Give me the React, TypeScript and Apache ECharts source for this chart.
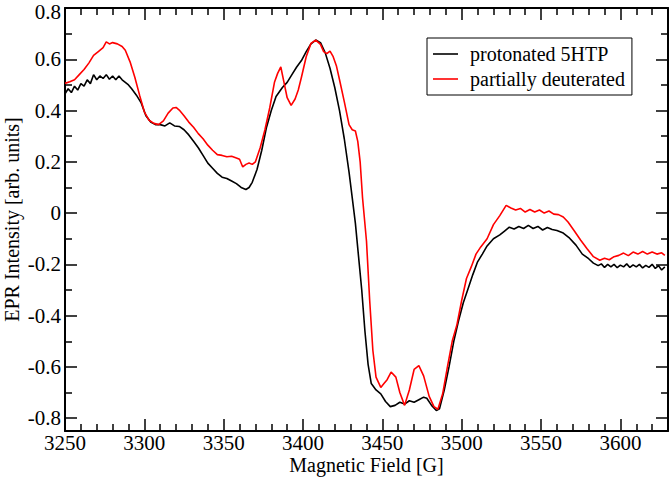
import React, { useEffect, useRef } from "react";
import * as echarts from "echarts";

const xTicks = [3250, 3300, 3350, 3400, 3450, 3500, 3550, 3600];
const yTicks = [-0.8, -0.6, -0.4, -0.2, 0, 0.2, 0.4, 0.6, 0.8];
const xMinorTicks = [3260, 3270, 3280, 3290, 3310, 3320, 3330, 3340, 3360, 3370, 3380, 3390, 3410, 3420, 3430, 3440, 3460, 3470, 3480, 3490, 3510, 3520, 3530, 3540, 3560, 3570, 3580, 3590, 3610, 3620];
const yMinorTicks = [-0.7, -0.5, -0.3, -0.1, 0.1, 0.3, 0.5, 0.7];

const seriesNames = ["protonated 5HTP", "partially deuterated"];

const protonatedField = [
  3250, 3252, 3254, 3256, 3258, 3260, 3262, 3264, 3266, 3268, 3270, 3272, 3274, 3276, 3278, 3280, 3282,
  3284, 3286, 3288, 3290, 3292, 3295, 3298,
  3301, 3304, 3307, 3310, 3313, 3316, 3319, 3322, 3325, 3328, 3331, 3334, 3337, 3340, 3343, 3346, 3349,
  3352, 3355, 3358, 3361, 3364, 3366, 3368, 3371, 3374, 3377, 3380, 3383, 3387, 3390, 3393, 3396, 3399,
  3402, 3405, 3408, 3411, 3414, 3417, 3420, 3423, 3426, 3429, 3431, 3433, 3435, 3437, 3439, 3441, 3443,
  3446, 3449, 3452, 3455, 3458, 3461, 3464, 3467, 3470, 3473, 3476, 3478, 3481, 3484, 3486, 3489, 3492,
  3495, 3498, 3501, 3504, 3507, 3510, 3513, 3516, 3520, 3524, 3527, 3530, 3533, 3536, 3539, 3542, 3545,
  3548, 3551, 3554, 3557, 3560, 3564, 3568, 3572, 3576, 3580, 3583, 3586, 3588, 3590, 3592, 3594, 3596,
  3598, 3600, 3602, 3604, 3606, 3608, 3610, 3612, 3614, 3616, 3618, 3620, 3622, 3624, 3626, 3628,
];
const protonatedIntensity = [
  0.465, 0.485, 0.47, 0.495, 0.48, 0.505, 0.495, 0.52, 0.505, 0.54, 0.52, 0.535, 0.525, 0.54, 0.522, 0.535, 0.52,
  0.535, 0.52, 0.51, 0.5, 0.485, 0.46, 0.43,
  0.38, 0.355, 0.345, 0.345, 0.34, 0.352, 0.34, 0.338, 0.325, 0.305, 0.28, 0.255, 0.225, 0.195, 0.175, 0.155, 0.14,
  0.135, 0.125, 0.115, 0.1, 0.092, 0.1, 0.12, 0.17, 0.245, 0.335, 0.4, 0.455, 0.49, 0.51, 0.54, 0.57, 0.595,
  0.63, 0.66, 0.675, 0.665, 0.625, 0.565, 0.49, 0.4, 0.29, 0.16, 0.06, -0.04, -0.17, -0.3, -0.46, -0.59, -0.665,
  -0.69, -0.705, -0.735, -0.755, -0.75, -0.738, -0.745, -0.732, -0.738, -0.728, -0.718, -0.722, -0.75, -0.77, -0.763, -0.69, -0.6,
  -0.5, -0.42, -0.35, -0.295, -0.24, -0.19, -0.16, -0.128, -0.1, -0.085, -0.07, -0.055, -0.062, -0.052, -0.06, -0.048, -0.06,
  -0.052, -0.066, -0.056, -0.064, -0.068, -0.078, -0.098, -0.125, -0.16, -0.178, -0.195, -0.205, -0.198, -0.212, -0.2, -0.21, -0.2,
  -0.213, -0.203, -0.21, -0.198, -0.212, -0.202, -0.21, -0.2, -0.214, -0.204, -0.212, -0.2, -0.216, -0.205, -0.222, -0.21,
];

const deuteratedField = [
  3250, 3253, 3256, 3259, 3262, 3265, 3268, 3271, 3274, 3276, 3278, 3280, 3283, 3286, 3288, 3291, 3294,
  3297, 3300, 3303, 3306, 3309, 3312, 3315, 3318, 3320, 3322, 3325, 3328, 3331, 3334, 3337, 3340, 3343,
  3346, 3349, 3352, 3355, 3358, 3360, 3362, 3364, 3366, 3368, 3370, 3373, 3376, 3379, 3382, 3384, 3386,
  3388, 3390, 3392.5, 3395, 3397, 3399, 3402, 3405, 3408, 3411, 3413, 3415, 3417, 3419, 3421, 3423, 3426,
  3429, 3431, 3433, 3434.5, 3436, 3437.5, 3440, 3442, 3444, 3446, 3449, 3451, 3453, 3455.5, 3458.5, 3461, 3464,
  3467, 3470, 3473, 3476, 3479.5, 3482.5, 3485, 3488, 3491, 3494, 3497, 3500, 3503, 3506, 3509, 3512, 3516,
  3520, 3524, 3528, 3531, 3534, 3537, 3540, 3543, 3546, 3549, 3552, 3555, 3558, 3561, 3564, 3567, 3571,
  3575, 3579, 3583, 3587, 3590, 3593, 3596, 3599, 3602, 3605, 3608, 3611, 3614, 3617, 3620, 3623, 3626,
  3628,
];
const deuteratedIntensity = [
  0.506, 0.512, 0.52, 0.54, 0.56, 0.585, 0.615, 0.63, 0.645, 0.668, 0.66, 0.665, 0.66, 0.65, 0.635, 0.59, 0.53,
  0.46, 0.395, 0.362, 0.35, 0.345, 0.36, 0.39, 0.41, 0.412, 0.402, 0.38, 0.355, 0.335, 0.31, 0.29, 0.265, 0.245,
  0.228, 0.225, 0.22, 0.222, 0.215, 0.21, 0.18, 0.19, 0.195, 0.19, 0.2, 0.255, 0.325, 0.41, 0.51, 0.545, 0.57,
  0.51, 0.45, 0.42, 0.445, 0.48, 0.53, 0.61, 0.662, 0.675, 0.658, 0.63, 0.622, 0.632, 0.61, 0.575, 0.52, 0.435,
  0.345, 0.325, 0.32, 0.28, 0.2, 0.06, -0.11, -0.34, -0.535, -0.64, -0.68, -0.665, -0.65, -0.62, -0.64, -0.7, -0.75,
  -0.69, -0.61, -0.595, -0.635, -0.715, -0.755, -0.765, -0.705, -0.6, -0.5, -0.435, -0.34, -0.255, -0.21, -0.16, -0.132, -0.1,
  -0.045, -0.01, 0.03, 0.02, 0.012, 0.018, 0.004, 0.014, 0.004, 0.012, 0.0, 0.008, -0.004, -0.006, -0.015, -0.035, -0.07,
  -0.106, -0.139, -0.17, -0.184, -0.176, -0.182, -0.17, -0.165, -0.156, -0.166, -0.152, -0.16, -0.15, -0.16, -0.152, -0.16, -0.155,
  -0.165,
];

const FONT = "'Liberation Serif', 'DejaVu Serif', serif";

export default function App() {
  const ref = useRef<HTMLDivElement>(null);
  useEffect(() => {
    if (!ref.current) return;
    const chart = echarts.init(ref.current, null, { renderer: "svg" });
    const xMin = 3250, xMax = 3630, yMin = -0.85, yMax = 0.8;
    const axisLineStyle = { color: "#000", width: 2 };
    const mkX = (position: string, ticks: number[], len: number, labels: boolean, line: boolean, name?: string) => ({
      type: "value",
      min: xMin,
      max: xMax,
      position,
      name,
      nameLocation: "middle",
      nameGap: 25,
      nameMoveOverlap: false,
      nameTextStyle: { fontFamily: FONT, fontSize: 20, color: "#000", lineHeight: 18 },
      axisLine: { show: line, onZero: false, lineStyle: axisLineStyle },
      axisTick: { show: true, inside: true, length: len, customValues: ticks, lineStyle: { color: "#000", width: 1.5 } },
      axisLabel: labels
        ? { show: true, customValues: ticks, fontFamily: FONT, fontSize: 21, color: "#000", margin: 3, lineHeight: 18, formatter: (v: number) => String(v) }
        : { show: false },
      splitLine: { show: false },
    });
    const mkY = (position: string, ticks: number[], len: number, labels: boolean, line: boolean, name?: string) => ({
      type: "value",
      min: yMin,
      max: yMax,
      position,
      name,
      nameLocation: "middle",
      nameGap: 43,
      nameMoveOverlap: false,
      nameTextStyle: { fontFamily: FONT, fontSize: 20, color: "#000", lineHeight: 20 },
      axisLine: { show: line, onZero: false, lineStyle: axisLineStyle },
      axisTick: { show: true, inside: true, length: len, customValues: ticks, lineStyle: { color: "#000", width: 1.5 } },
      axisLabel: labels
        ? {
            show: true,
            customValues: ticks,
            fontFamily: FONT,
            fontSize: 21,
            lineHeight: 15,
            color: "#000",
            margin: 4,
            formatter: (v: number) => {
              const s = Math.abs(v) < 1e-9 ? "0" : String(Math.round(v * 10) / 10);
              return v >= yTicks[yTicks.length - 1] - 1e-9 ? "{top|" + s + "}" : s;
            },
            rich: {
              top: { fontFamily: FONT, fontSize: 21, color: "#000", lineHeight: 15, padding: [7, 0, 0, 0] },
            },
          }
        : { show: false },
      splitLine: { show: false },
    });
    chart.setOption({
      animation: false,
      backgroundColor: "#fff",
      grid: { left: 65, right: 4, top: 8, bottom: 49, containLabel: false, outerBoundsMode: "none" },
      legend: {
        left: 427,
        top: 38,
        orient: "vertical",
        data: seriesNames,
        icon: "rect",
        backgroundColor: "#fff",
        borderColor: "#000",
        borderWidth: 1,
        borderRadius: 0,
        padding: [5, 7, 5, 6],
        itemGap: 3,
        itemWidth: 25,
        itemHeight: 1.6,
        textStyle: { fontFamily: FONT, fontSize: 20, color: "#000", lineHeight: 22, padding: [0, 0, 0, 7] },
      },
      xAxis: [
        mkX("bottom", xTicks, 12, true, true, "Magnetic Field [G]"),
        mkX("bottom", xMinorTicks, 7, false, false),
        mkX("top", xTicks, 12, false, true),
        mkX("top", xMinorTicks, 7, false, false),
      ],
      yAxis: [
        mkY("left", yTicks, 12, true, true, "EPR Intensity [arb. units]"),
        mkY("left", yMinorTicks, 7, false, false),
        mkY("right", yTicks, 12, false, true),
        mkY("right", yMinorTicks, 7, false, false),
      ],
      series: [
        {
          name: seriesNames[0],
          type: "line",
          symbol: "none",
          xAxisIndex: 0,
          yAxisIndex: 0,
          data: protonatedField.map((f, i) => [f, protonatedIntensity[i]]),
          lineStyle: { color: "#000", width: 1.6 },
          itemStyle: { color: "#000" },
        },
        {
          name: seriesNames[1],
          type: "line",
          symbol: "none",
          xAxisIndex: 0,
          yAxisIndex: 0,
          data: deuteratedField.map((f, i) => [f, deuteratedIntensity[i]]),
          lineStyle: { color: "#ff0000", width: 1.6 },
          itemStyle: { color: "#ff0000" },
        },
      ],
    });
    return () => chart.dispose();
  }, []);
  return <div ref={ref} style={{ position: "fixed", left: 0, top: 0, width: 672, height: 480 }} />;
}
